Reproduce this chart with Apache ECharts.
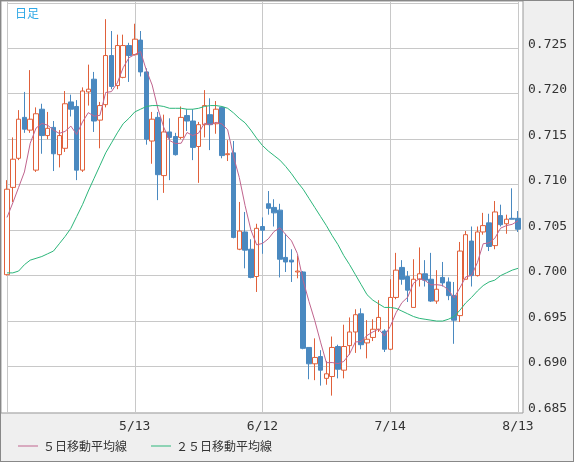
<!DOCTYPE html>
<html><head><meta charset="utf-8">
<script src="https://cdn.jsdelivr.net/npm/echarts@6/dist/echarts.min.js"></script>
<style>html,body{margin:0;padding:0;background:#efefef}#c{width:574px;height:462px;box-sizing:border-box;border:1px solid #888}</style>
</head><body><div id="c"></div>
<script>
const opens  = [0.6997,0.7093,0.7125,0.7170,0.7156,0.7112,0.7179,0.7150,0.7159,0.7129,0.7136,0.7187,0.7182,0.7112,0.7198,0.7212,0.7167,0.7184,0.7238,0.7205,0.7214,0.7249,0.7239,0.7255,0.7220,0.7144,0.7170,0.7106,0.7154,0.7149,
0.7148,0.7172,0.7166,0.7138,0.7162,0.7173,0.7163,0.7181,0.7129,0.7131,0.7025,0.7044,0.7025,0.6995,0.7050,0.7075,0.7071,0.7068,0.7016,0.7013,0.7000,0.7000,0.6917,0.6899,0.6907,0.6883,0.6885,0.6918,0.6892,
0.6919,0.6934,0.6954,0.6922,0.6928,0.6937,0.6935,0.6915,0.6972,0.7005,0.6995,0.6961,0.6992,0.6998,0.6992,0.6968,0.6994,0.6989,0.6974,0.6952,0.6992,0.7034,0.6996,0.7044,0.7054,0.7029,0.7062,0.7053,0.7059,0.7059];
const closes = [0.7091,0.7124,0.7168,0.7157,0.7168,0.7174,0.7150,0.7158,0.7130,0.7150,0.7185,0.7179,0.7112,0.7199,0.7201,0.7166,0.7183,0.7238,0.7204,0.7249,0.7249,0.7238,0.7256,0.7220,0.7146,0.7168,0.7107,0.7154,0.7148,0.7129,
0.7170,0.7166,0.7137,0.7162,0.7183,0.7162,0.7179,0.7128,0.7130,0.7038,0.7045,0.7024,0.6994,0.7048,0.7046,0.7070,0.7065,0.7014,0.7011,0.7011,0.7001,0.6916,0.6899,0.6906,0.6892,0.6888,0.6917,0.6893,0.6918,
0.6934,0.6953,0.6920,0.6926,0.6937,0.6950,0.6915,0.6972,0.7002,0.6992,0.6980,0.6992,0.6998,0.6991,0.6968,0.6981,0.6988,0.6974,0.6947,0.7023,0.7041,0.6996,0.7044,0.7051,0.7028,0.7066,0.7052,0.7058,0.7058,0.7047];
const lows   = [0.6996,0.7077,0.7123,0.7153,0.7153,0.7110,0.7130,0.7146,0.7111,0.7115,0.7132,0.7171,0.7101,0.7110,0.7183,0.7154,0.7136,0.7181,0.7201,0.7201,0.7213,0.7209,0.7238,0.7215,0.7140,0.7119,0.7079,0.7087,0.7101,0.7128,
0.7146,0.7155,0.7123,0.7098,0.7148,0.7134,0.7152,0.7125,0.7122,0.7037,0.7024,0.7004,0.6993,0.6978,0.7020,0.7063,0.7050,0.6994,0.7000,0.6989,0.6993,0.6915,0.6882,0.6881,0.6875,0.6876,0.6864,0.6883,0.6883,
0.6909,0.6911,0.6915,0.6905,0.6924,0.6934,0.6912,0.6914,0.6970,0.6986,0.6967,0.6961,0.6984,0.6984,0.6967,0.6965,0.6984,0.6969,0.6921,0.6945,0.6992,0.6984,0.6995,0.7041,0.7023,0.7025,0.7050,0.7042,0.7058,0.7044];
const highs  = [0.7101,0.7148,0.7178,0.7198,0.7222,0.7181,0.7185,0.7176,0.7166,0.7156,0.7199,0.7195,0.7189,0.7203,0.7228,0.7220,0.7187,0.7278,0.7265,0.7261,0.7261,0.7252,0.7273,0.7265,0.7224,0.7176,0.7176,0.7173,0.7169,0.7153,
0.7182,0.7179,0.7179,0.7165,0.7200,0.7191,0.7188,0.7182,0.7145,0.7144,0.7077,0.7066,0.7036,0.7053,0.7060,0.7089,0.7080,0.7075,0.7042,0.7025,0.7018,0.7001,0.6917,0.6927,0.6914,0.6902,0.6929,0.6920,0.6942,
0.6950,0.6959,0.6960,0.6947,0.6948,0.6969,0.6937,0.6992,0.7021,0.7013,0.7001,0.7014,0.7027,0.7013,0.7021,0.7002,0.7011,0.6994,0.6989,0.7033,0.7045,0.7050,0.7050,0.7065,0.7064,0.7078,0.7074,0.7063,0.7092,0.7067];
const ma5Head = [0.7060,0.7076,0.7093,0.7110];
const ma25 = [0.6999,0.6999,0.7001,0.7008,0.7013,0.7015,0.7017,0.7020,0.7023,0.7031,0.7039,0.7048,0.7061,0.7074,0.7089,0.7103,0.7117,0.7131,0.7142,0.7153,0.7163,0.7169,0.7176,0.7179,0.7182,0.7183,0.7183,0.7182,0.7180,0.7180,
0.7180,0.7179,0.7179,0.7180,0.7182,0.7183,0.7183,0.7182,0.7180,0.7175,0.7169,0.7164,0.7156,0.7147,0.7139,0.7133,0.7128,0.7123,0.7116,0.7108,0.7099,0.7091,0.7081,0.7071,0.7061,0.7051,0.7040,0.7030,0.7018,
0.7008,0.6997,0.6986,0.6975,0.6969,0.6965,0.6961,0.6961,0.6960,0.6957,0.6954,0.6951,0.6949,0.6948,0.6947,0.6946,0.6946,0.6948,0.6951,0.6958,0.6966,0.6972,0.6979,0.6985,0.6989,0.6991,0.6996,0.6999,0.7002,0.7004];
const dateLabels = {22:'5/13',44:'6/12',66:'7/14',88:'8/13'};
const yTicks = [0.685,0.690,0.695,0.700,0.705,0.710,0.715,0.720,0.725];

const cats = closes.map((_,i)=>dateLabels[i]||('d'+i));
const kdata = closes.map((c,i)=>[opens[i],c,lows[i],highs[i]]);
const ma5 = closes.map((c,i)=> i<4 ? ma5Head[i] : +((closes[i]+closes[i-1]+closes[i-2]+closes[i-3]+closes[i-4])/5).toFixed(5));

const chart = echarts.init(document.getElementById('c'),null,{renderer:'canvas'});
chart.setOption({
  animation:false,
  backgroundColor:'#efefef',
  graphic:[
    {type:'rect',z:-10,shape:{x:0,y:0,width:522,height:412},style:{fill:'#fff',stroke:'#999',lineWidth:1}},
    {type:'text',left:14,top:6,style:{text:'日足',fill:'#2fa8e6',font:'12px "Noto Sans CJK JP"'}}
  ],
  grid:{left:6,right:55,top:0,bottom:49},
  legend:{left:12,bottom:4,icon:'rect',itemWidth:20,itemHeight:1,itemGap:24,
    textStyle:{color:'#333',fontSize:12,fontFamily:'"Noto Sans CJK JP"'},
    data:['５日移動平均線','２５日移動平均線']},
  xAxis:{type:'category',data:cats,boundaryGap:false,
    axisLine:{show:false},axisTick:{show:false},
    axisLabel:{interval:(i)=>i%22===0 && i>0,formatter:(v)=>v.startsWith('d')?'':v,color:'#333',fontFamily:'"DejaVu Sans Mono"',fontSize:13,margin:8},
    splitLine:{show:true,interval:(i)=>i%22===0,lineStyle:{color:'#c8c8c8'}}},
  yAxis:{type:'value',position:'right',min:0.6846,max:0.7298,interval:0.005,
    axisLine:{show:false},axisTick:{show:false},
    axisLabel:{margin:10,color:'#333',fontFamily:'"DejaVu Sans Mono"',fontSize:13,
      customValues:yTicks,formatter:(v)=>v.toFixed(3)},
    splitLine:{show:true,lineStyle:{color:'#c8c8c8'}},
    customValues:yTicks},
  series:[
    {type:'candlestick',data:kdata,barWidth:5,
      itemStyle:{color:'#fff',color0:'#4a89c0',borderColor:'#e0603a',borderColor0:'#4a89c0',borderWidth:1}},
    {name:'５日移動平均線',type:'line',data:ma5,symbol:'none',lineStyle:{color:'#c0648e',width:1},itemStyle:{color:'#c0648e'}},
    {name:'２５日移動平均線',type:'line',data:ma25,symbol:'none',lineStyle:{color:'#2cb67a',width:1},itemStyle:{color:'#2cb67a'}}
  ]
});
</script></body></html>
